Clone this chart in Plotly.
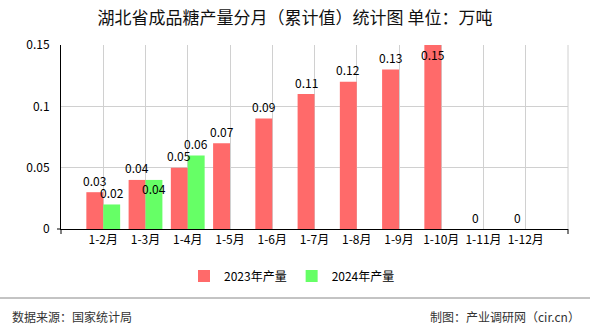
import plotly.graph_objects as go

# Monthly cumulative sugar output, 10k tonnes
categories = ["1-2月", "1-3月", "1-4月", "1-5月", "1-6月", "1-7月",
              "1-8月", "1-9月", "1-10月", "1-11月", "1-12月"]
values_2023 = [0.03, 0.04, 0.05, 0.07, 0.09, 0.11, 0.12, 0.13, 0.15, 0, 0]
values_2024 = [0.02, 0.04, 0.06, None, None, None, None, None, None, None, None]
label_2023 = [f"{v:g}" for v in values_2023]
label_2024 = [f"{v:g}" if v is not None else "" for v in values_2024]

series_names = ["2023年产量", "2024年产量"]
colors = ["#FF6A6A", "#66FF66"]
y_max = 0.15
y_ticks = [0, 0.05, 0.1, 0.15]
y_tick_text = ["0", "0.05", "0.1", "0.15"]

FONT = "Noto Sans CJK SC, DejaVu Sans, sans-serif"

fig = go.Figure()
fig.add_trace(go.Bar(x=categories, y=values_2023, name=series_names[0],
                     marker=dict(color=colors[0], line=dict(width=0))))
fig.add_trace(go.Bar(x=categories, y=values_2024, name=series_names[1],
                     marker=dict(color=colors[1], line=dict(width=0))))

# value labels above each bar; a label is pushed inside its bar when the bar
# reaches the top, or when it would collide with the neighbouring label
for trace_idx, (vals, labels) in enumerate([(values_2023, label_2023),
                                           (values_2024, label_2024)]):
    xshift = -8.5 if trace_idx == 0 else 8.5
    for i, (cat, v, lab) in enumerate(zip(categories, vals, labels)):
        if v is None:
            continue
        collide = trace_idx == 1 and values_2023[i] == v
        yshift = -9 if (v >= y_max or collide) else 12
        fig.add_annotation(x=cat, y=v, xref="x", yref="y", text=lab,
                           showarrow=False, xshift=xshift, yshift=yshift,
                           font=dict(family=FONT, size=12, color="#000"))

fig.update_layout(
    width=590, height=330,
    margin=dict(l=61, r=22, t=45, b=101),
    paper_bgcolor="white", plot_bgcolor="white",
    title=dict(text="湖北省成品糖产量分月（累计值）统计图 单位：万吨",
               x=0.5, xref="container", xanchor="center", y=1 - 18 / 330, yanchor="middle",
               font=dict(family=FONT, size=17, color="#111")),
    font=dict(family=FONT, size=12, color="#000"),
    barmode="group", bargap=0.2, bargroupgap=0,
    showlegend=True,
    xaxis=dict(type="category", range=[-1, 11], showgrid=True, gridcolor="#D0D0D0",
               gridwidth=1, showline=True, linecolor="#000", linewidth=1,
               ticks="", tickfont=dict(family=FONT, size=12, color="#000"),
               fixedrange=True),
    yaxis=dict(range=[0, y_max], tickvals=y_ticks, ticktext=y_tick_text,
               showgrid=True, gridcolor="#D0D0D0", gridwidth=1,
               showline=True, linecolor="#000", linewidth=1, zeroline=False,
               ticks="", ticklabelstandoff=8,
               tickfont=dict(family=FONT, size=12, color="#000")),
)

# helpers to place items in pixel-like paper coordinates
plot_h = 330 - 45 - 101
plot_w = 590 - 61 - 22
def px_x(x):
    return (x - 61) / plot_w
def px_y(y):
    return (330 - 101 - y) / plot_h

fig.update_layout(legend=dict(orientation="h", x=px_x(184), xanchor="left",
                              y=px_y(276), yanchor="middle",
                              font=dict(family=FONT, size=12, color="#000"),
                              itemwidth=30, traceorder="normal"))

fig.add_annotation(text="数据来源：国家统计局", x=px_x(10), y=px_y(316), xref="paper",
                   yref="paper", xanchor="left", yanchor="middle", showarrow=False,
                   font=dict(family=FONT, size=12, color="#333"))
fig.add_annotation(text="制图：产业调研网（cir.cn）", x=px_x(582), y=px_y(316), xref="paper",
                   yref="paper", xanchor="right", yanchor="middle", showarrow=False,
                   font=dict(family=FONT, size=12, color="#333"))

# right border grid line, footer rule and axis end ticks
fig.add_shape(type="line", xref="paper", yref="paper", x0=1, x1=1, y0=0, y1=1,
              line=dict(color="#D0D0D0", width=1))
fig.add_shape(type="line", xref="paper", yref="paper", x0=px_x(0), x1=px_x(590),
              y0=px_y(298), y1=px_y(298), line=dict(color="#888", width=1))
for xp in (0, 1):
    fig.add_shape(type="line", xref="paper", yref="paper", x0=xp, x1=xp,
                  y0=0, y1=px_y(234), line=dict(color="#000", width=1))
fig.add_shape(type="line", xref="paper", yref="paper", x0=px_x(57), x1=0,
              y0=0, y1=0, line=dict(color="#000", width=1))

fig.write_html("out.html", config={"displayModeBar": False})
